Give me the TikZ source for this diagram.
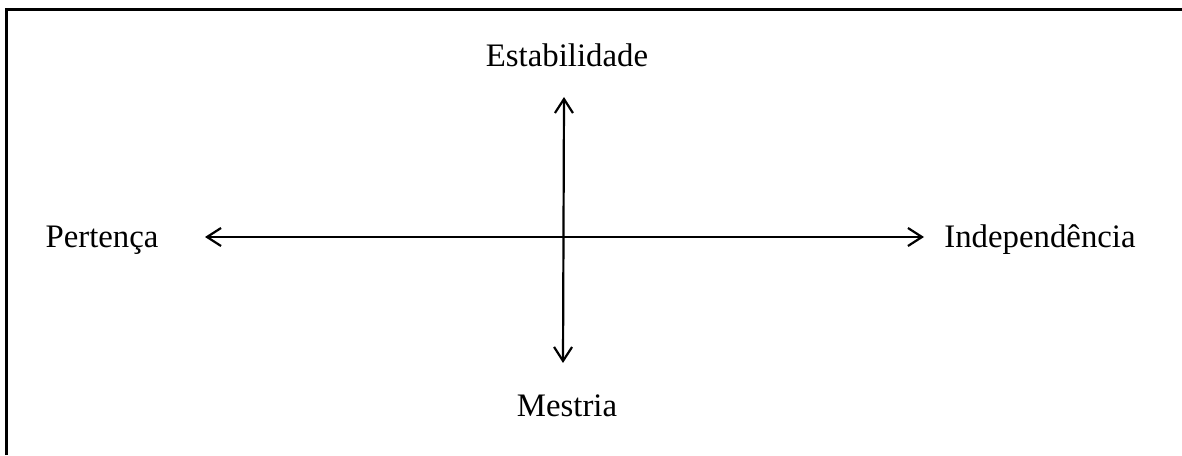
\documentclass[tikz,border=0pt]{standalone}
\usepackage{fontspec}
\setmainfont{Liberation Serif}
\usetikzlibrary{arrows.meta, positioning}

\begin{document}
\begin{tikzpicture}[x=0.5pt, y=0.5pt,
  axis/.style={line width=1.1pt, {Straight Barb[length=7pt, width=9pt, line width=1.1pt]}-{Straight Barb[length=7pt, width=9pt, line width=1.1pt]}},
  label/.style={font=\fontsize{16.4}{19}\selectfont, inner sep=0pt, anchor=base},
]
  \useasboundingbox (0,0) rectangle (1182,455);
  \draw[line width=1.5pt] (6.5,0) -- (6.5,445.5) -- (1182,445.5);
  % ends of the two axes
  \coordinate (N) at (564,358);
  \coordinate (S) at (563,92);
  \coordinate (W) at (205,218);
  \coordinate (E) at (924,218);
  \draw[axis] (S) -- (N);
  \draw[axis] (W) -- (E);
  \node[label] (est) at (567,388) {Estabilidade};
  \node[label] (mes) at (567,39) {Mestria};
  \node[label] (per) at (102,207) {Pertença};
  \node[label] (ind) at (1040,207) {Independência};
\end{tikzpicture}
\end{document}
